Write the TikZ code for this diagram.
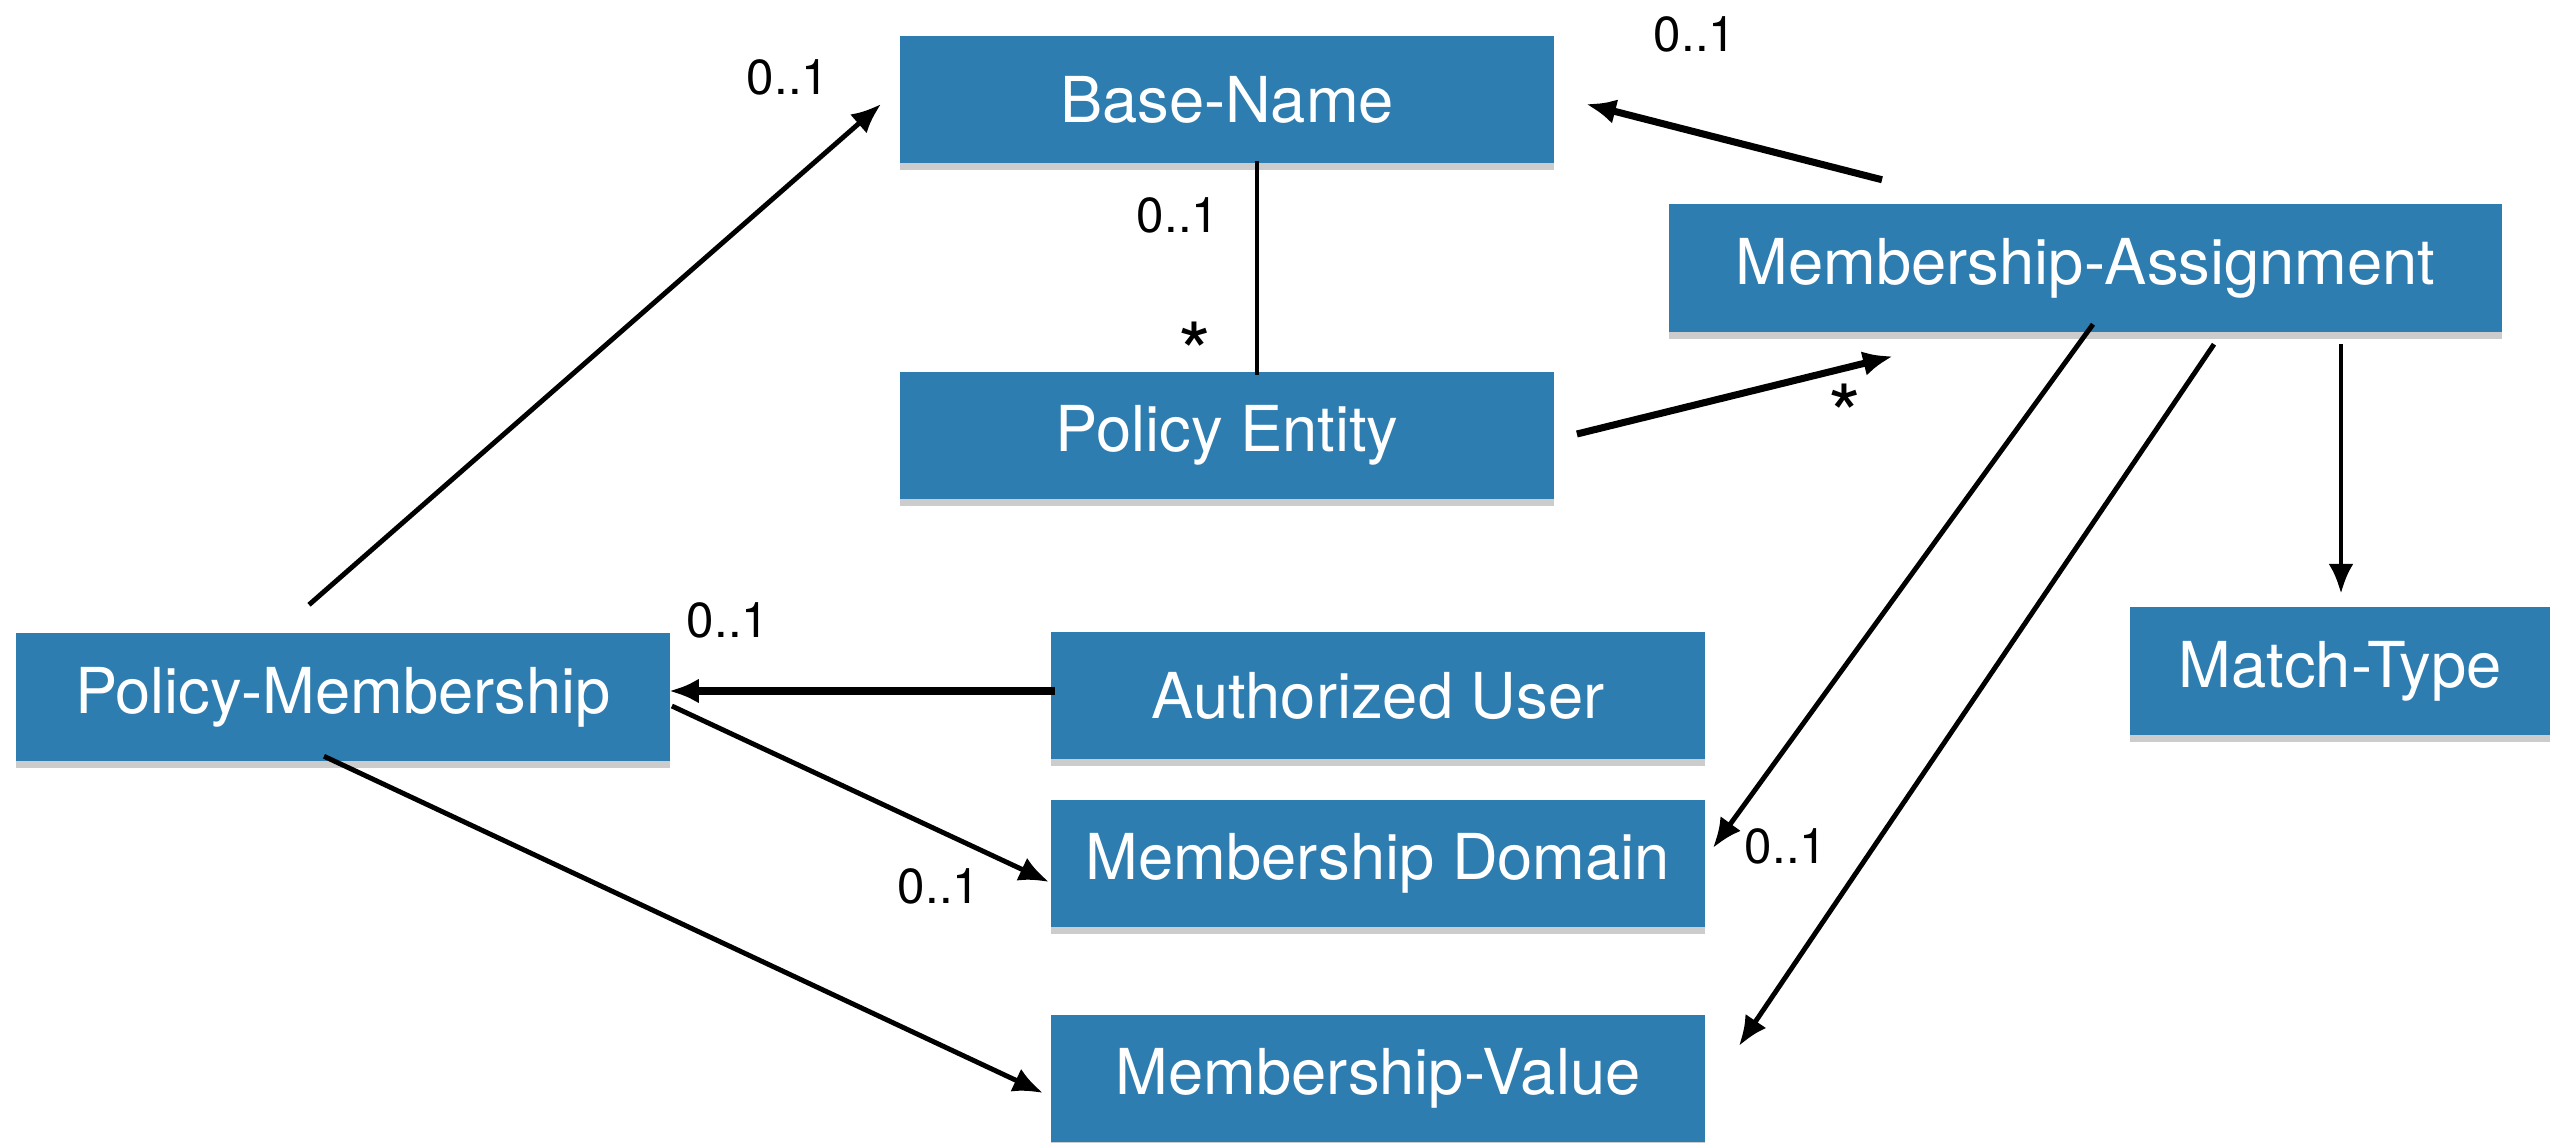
\documentclass[tikz,border=0pt]{standalone}
\usepackage{fontspec}
\setmainfont{TeX Gyre Heros}
\usepackage{tikz}
\usetikzlibrary{arrows.meta,calc,shadows}
\definecolor{boxblue}{RGB}{46,125,176}

\begin{document}
\begin{tikzpicture}[x=0.01cm, y=-0.01cm,
        entity/.style={fill=boxblue, text=white, minimum width=6.54cm, minimum height=1.27cm,
            inner sep=0pt, font=\fontsize{18}{22}\selectfont,
            drop shadow={shadow xshift=0pt, shadow yshift=-2pt, opacity=0.2, fill=black}},
        mult/.style={font=\fontsize{14}{16}\selectfont, inner sep=0pt},
        starlabel/.style={font=\fontsize{24}{26}\selectfont, inner sep=0pt, anchor=north},
        link/.style={line width=1.4pt, -{Latex[length=0.3cm, width=0.25cm]}},
        boldlink/.style={link, line width=2pt}]
        \useasboundingbox (0,0) rectangle (2551,1142);

        % classes
        \node[entity] (bn) at (1227,99.5) {Base-Name};
        \node[entity] (pe) at (1227,435.5) {Policy Entity};
        \node[entity, minimum width=8.33cm] (ma) at (2085.5,268) {Membership-Assignment};
        \node[entity, minimum width=4.2cm] (mt) at (2340,671) {Match-Type};
        \node[entity] (pm) at (343,697) {Policy-Membership};
        \node[entity] (au) at (1378,695.5) {Authorized User};
        \node[entity] (md) at (1378,863.5) {Membership Domain};
        \node[entity] (mv) at (1378,1078.5) {Membership-Value};

        % associations
        \draw[link] ($(pm.north)+(-34,-28)$) -- ($(bn.west)+(-18,4.5)$);
        \draw[boldlink] ($(ma.north)+(-203.5,-24)$) -- ($(bn.east)+(31,4.5)$);
        \draw[boldlink] ($(pe.east)+(22,-1.5)$) -- ($(ma.south)+(-192.5,24)$);
        \draw[line width=1.4pt] ($(bn.south)+(30,-3)$) -- ($(pe.north)+(30,4)$);
        \draw[link] ($(ma.south)+(7.5,-8)$) -- ($(md.east)+(7,-15.5)$);
        \draw[link] ($(ma.south)+(128.5,12)$) -- ($(mv.east)+(33,-32.5)$);
        \draw[link] ($(ma.south)+(255.5,12)$) -- ($(mt.north)+(1,-13)$);
        \draw[boldlink] ($(au.west)+(5,-4.5)$) -- ($(pm.east)+(-2,-6)$);
        \draw[link] ($(pm.east)+(1,9)$) -- ($(md.west)+(-1,18.5)$);
        \draw[link] ($(pm.south)+(-19,-5)$) -- ($(mv.west)+(-7,14.5)$);

        % multiplicities
        \node[mult] (m1) at (788,77) {0..1};
        \node[mult] (m2) at (1178,215) {0..1};
        \node[mult] (m3) at (1695,34) {0..1};
        \node[mult] (m4) at (728,620) {0..1};
        \node[mult] (m5) at (939,886) {0..1};
        \node[mult] (m6) at (1786,846) {0..1};
        \node[starlabel] (s1) at (1195,321) {*};
        \node[starlabel] (s2) at (1845,383) {*};
\end{tikzpicture}
\end{document}
